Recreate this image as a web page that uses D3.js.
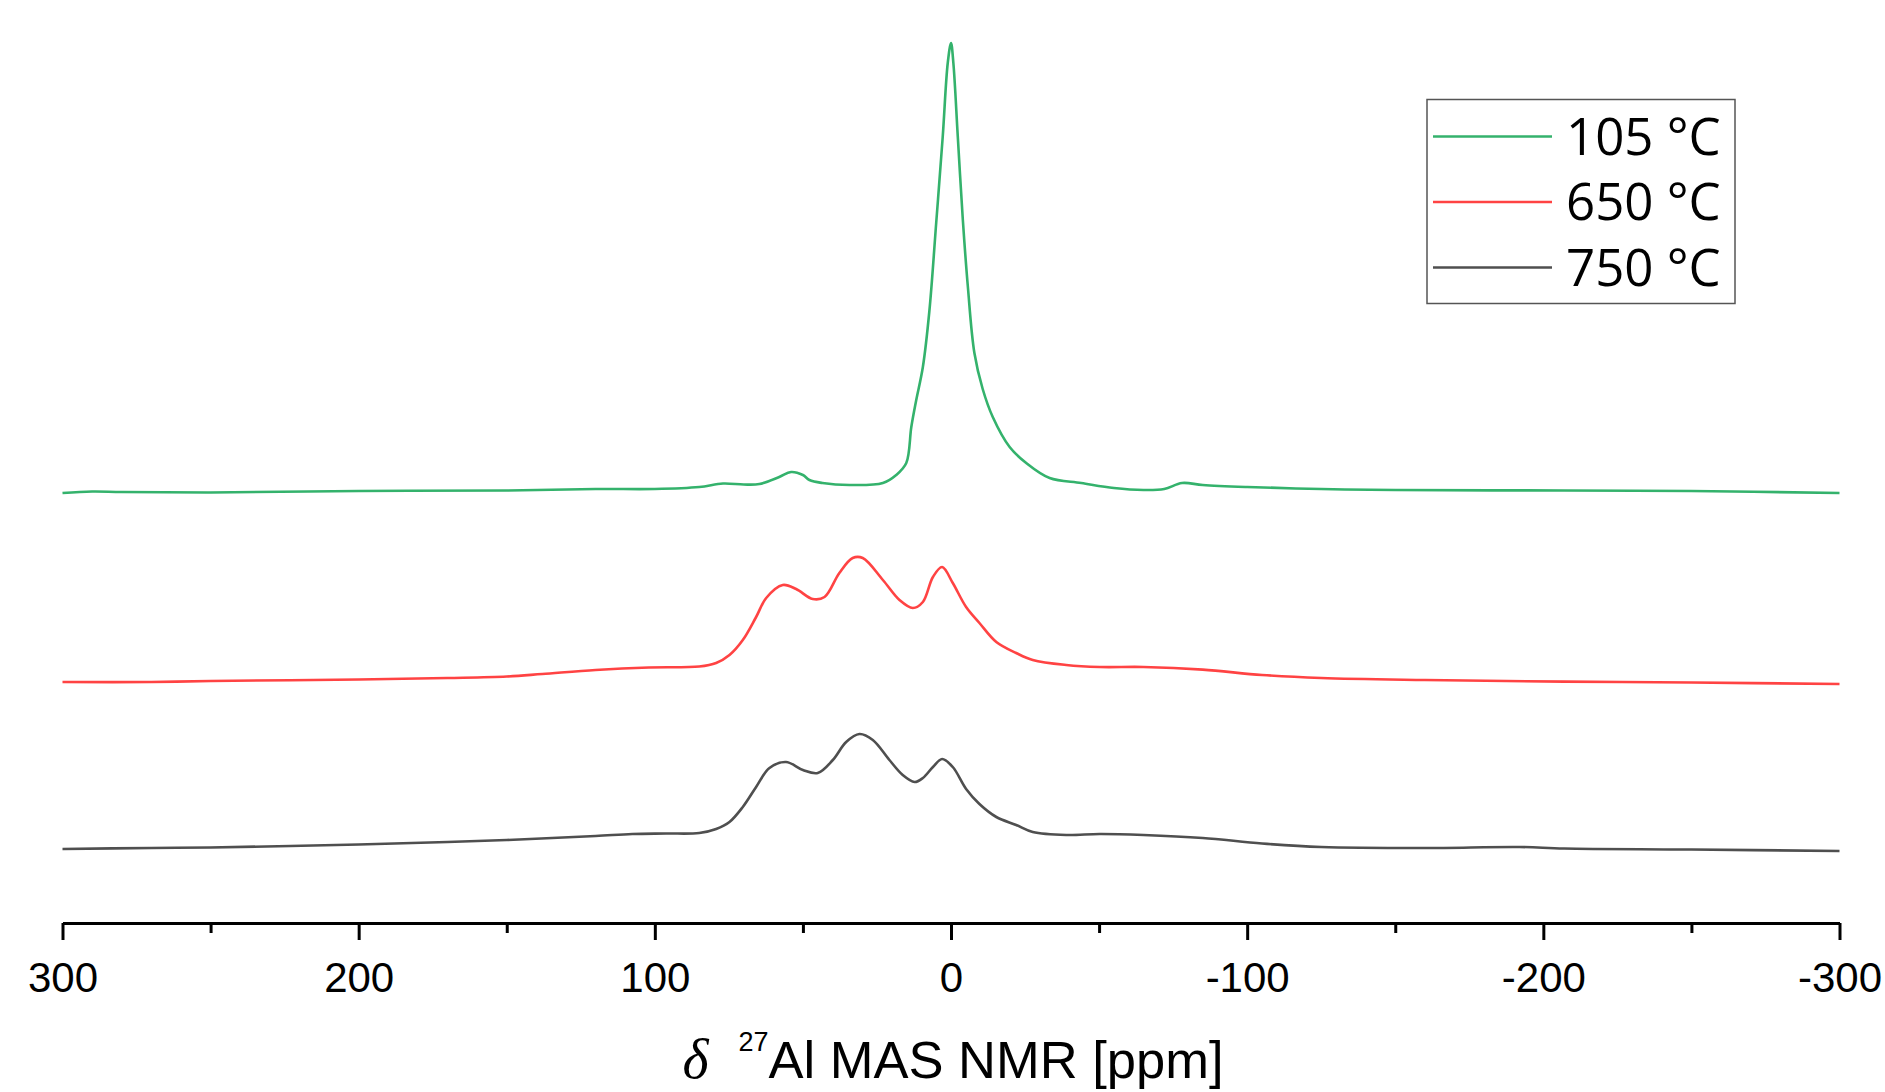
<!DOCTYPE html>
<html>
<head>
<meta charset="utf-8">
<script src="https://cdn.jsdelivr.net/npm/d3@7"></script>
<style>
  html, body { margin: 0; padding: 0; background: #fff; }
  svg { display: block; }
</style>
</head>
<body>
<div id="chart"></div>
<script>
// ── Data (intensities in a.u., spectra already stacked) ──────────────────────
const seriesNames = ['105 °C', '650 °C', '750 °C'];

const ppm105 = [300, 290, 280, 250, 200, 150, 120, 100, 85, 77, 70, 64.7, 58, 54, 50, 47.8, 43.4, 34.3, 23, 18.5, 15.1,
                13.4, 11.8, 9.5, 7.3, 5, 2.8, 1.1, 0, -0.8, -2.3, -4, -5.7, -7.9, -10.7, -14.1, -19.8, -25.4,
                -33.3, -44, -55, -65, -72, -78, -85, -100, -125, -150, -207, -250, -300];
const int105 = [430, 431.5, 431, 430.5, 432, 432.5, 434, 434, 436, 439.5, 438.5, 439, 446, 451, 448, 443, 440, 438, 440, 448, 460,
                496, 522, 556, 612, 700, 786, 860, 880, 860, 786, 703, 636, 570, 534, 506, 476, 460,
                445, 440, 435, 433, 434, 440, 438, 436, 434, 433, 432.5, 432, 430];

const ppm650 = [300, 270, 250, 200, 170, 150, 138, 120, 102, 85, 79.3, 74.8, 70.3, 65.8, 62.4, 56.8, 52.3, 46.7,
                42.7, 37.7, 33.2, 29.8, 23, 17.4, 12.9, 9.5, 6.1, 3, -0.6, -5.1, -9.6, -15.3, -22, -27.6, -38.9,
                -50.2, -65, -85, -105, -125, -160, -207, -250, -300];
const int650 = [241, 241, 242, 243.5, 245, 246.5, 249, 253, 255.5, 256.5, 260, 268, 283, 306, 325, 338, 334, 324,
                326, 350, 365, 365, 343, 323, 315, 321, 346, 356, 340, 316, 300, 281, 270, 263, 258,
                256, 256, 253.4, 248, 245, 243, 241.4, 240.5, 239];

const ppm750 = [300, 270, 250, 200, 170, 150, 120, 107.6, 96.2, 85, 79.3, 74.8, 70.3, 65.8, 61.3, 55.7, 50, 45,
                39.9, 35.4, 30.9, 26.4, 20.8, 16.3, 12.3, 9.5, 6.1, 3, -0.6, -5.1, -9.6, -15.3, -22, -27.6,
                -38.9, -50.2, -65, -85, -105, -125, -160, -192, -207, -250, -300];
const int750 = [74, 75, 75.5, 78.5, 81, 83, 87, 89, 89.5, 90, 94, 101, 116, 136, 155, 161, 153, 150,
                163, 181, 189, 183, 163, 148, 141, 145, 156, 164, 156, 134, 119, 106, 98, 91,
                88, 89, 88, 85, 79.5, 76, 75, 76, 74.5, 73.5, 72];

const majorTicks = [300, 200, 100, 0, -100, -200, -300];
const minorTicks = [250, 150, 50, -50, -150, -250];

// ── Styles ───────────────────────────────────────────────────────────────────
const colors = ['#34b26c', '#ff4343', '#4f4f4f'];
const W = 1885, H = 1092;
const margin = { left: 62.5, right: 45.5, top: 43, bottom: 169 };
const axisY = H - margin.bottom;

const series = [
    { name: seriesNames[0], ppm: ppm105, val: int105, color: colors[0] },
    { name: seriesNames[1], ppm: ppm650, val: int650, color: colors[1] },
    { name: seriesNames[2], ppm: ppm750, val: int750, color: colors[2] }
];

const svg = d3.select('#chart').append('svg')
    .attr('width', W)
    .attr('height', H)
    .attr('viewBox', `0 0 ${W} ${H}`);

const x = d3.scaleLinear().domain([300, -300]).range([margin.left, W - margin.right]);
const y = d3.scaleLinear().domain([0, 880]).range([axisY, margin.top]);

const line = d3.line()
    .x(d => x(d[0]))
    .y(d => y(d[1]))
    .curve(d3.curveCatmullRom.alpha(0.5));

// Spectra
svg.append('g').selectAll('path.spec')
    .data(series)
    .join('path')
    .attr('class', 'spec')
    .attr('fill', 'none')
    .attr('stroke', d => d.color)
    .attr('stroke-width', 2.6)
    .attr('stroke-linejoin', 'round')
    .attr('d', d => line(d3.zip(d.ppm, d.val)));

// ── X axis ───────────────────────────────────────────────────────────────────
// minor ticks (no labels)
const gxMin = svg.append('g').attr('transform', `translate(0,${axisY})`);
gxMin.call(d3.axisBottom(x)
        .tickValues(minorTicks)
        .tickSize(10)
        .tickSizeOuter(0)
        .tickFormat(''))
    .call(g => g.select('.domain').remove());
gxMin.selectAll('.tick line').attr('stroke', '#000').attr('stroke-width', 3);

// major ticks + axis line
const gxMaj = svg.append('g').attr('transform', `translate(0,${axisY})`);
gxMaj.call(d3.axisBottom(x)
        .tickValues(majorTicks)
        .tickSize(17)
        .tickSizeOuter(0)
        .tickPadding(22)
        .tickFormat(d => String(d)));   // plain hyphen, as in the original
gxMaj.select('.domain').attr('stroke', '#000').attr('stroke-width', 3);
gxMaj.selectAll('.tick line').attr('stroke', '#000').attr('stroke-width', 3);
gxMaj.selectAll('.tick text')
    .attr('fill', '#000')
    .style('font-family', '"Liberation Sans", Arial, sans-serif')
    .style('font-size', '42px');

// Axis title
const title = svg.append('text')
    .attr('x', 953)
    .attr('y', 1078)
    .attr('text-anchor', 'middle')
    .attr('fill', '#000')
    .style('font-family', '"Liberation Sans", Arial, sans-serif')
    .style('font-size', '52.5px');
title.append('tspan')
    .style('font-family', '"Liberation Serif", "DejaVu Serif", serif')
    .style('font-style', 'italic')
    .style('font-size', '56px')
    .text('δ');
title.append('tspan')
    .attr('dx', 30)
    .attr('dy', -27)
    .style('font-size', '27px')
    .text('27');
title.append('tspan')
    .attr('dy', 27)
    .text('Al MAS NMR [ppm]');

// ── Legend ───────────────────────────────────────────────────────────────────
const legend = svg.append('g').attr('transform', 'translate(1427,99.5)');
legend.append('rect')
    .attr('width', 308)
    .attr('height', 204)
    .attr('fill', '#fff')
    .attr('stroke', '#555')
    .attr('stroke-width', 1.5);

const rows = legend.selectAll('g.row')
    .data(series)
    .join('g')
    .attr('class', 'row')
    .attr('transform', (d, i) => `translate(0,${37 + i * 65.5})`);

rows.append('line')
    .attr('x1', 6).attr('x2', 125)
    .attr('stroke', d => d.color)
    .attr('stroke-width', 2.6);

rows.append('text')
    .attr('x', 139)
    .attr('y', 18)
    .attr('fill', '#000')
    .style('font-family', '"Open Sans", "Noto Sans", sans-serif')
    .style('font-size', '51px')
    .text(d => d.name);
</script>
</body>
</html>
